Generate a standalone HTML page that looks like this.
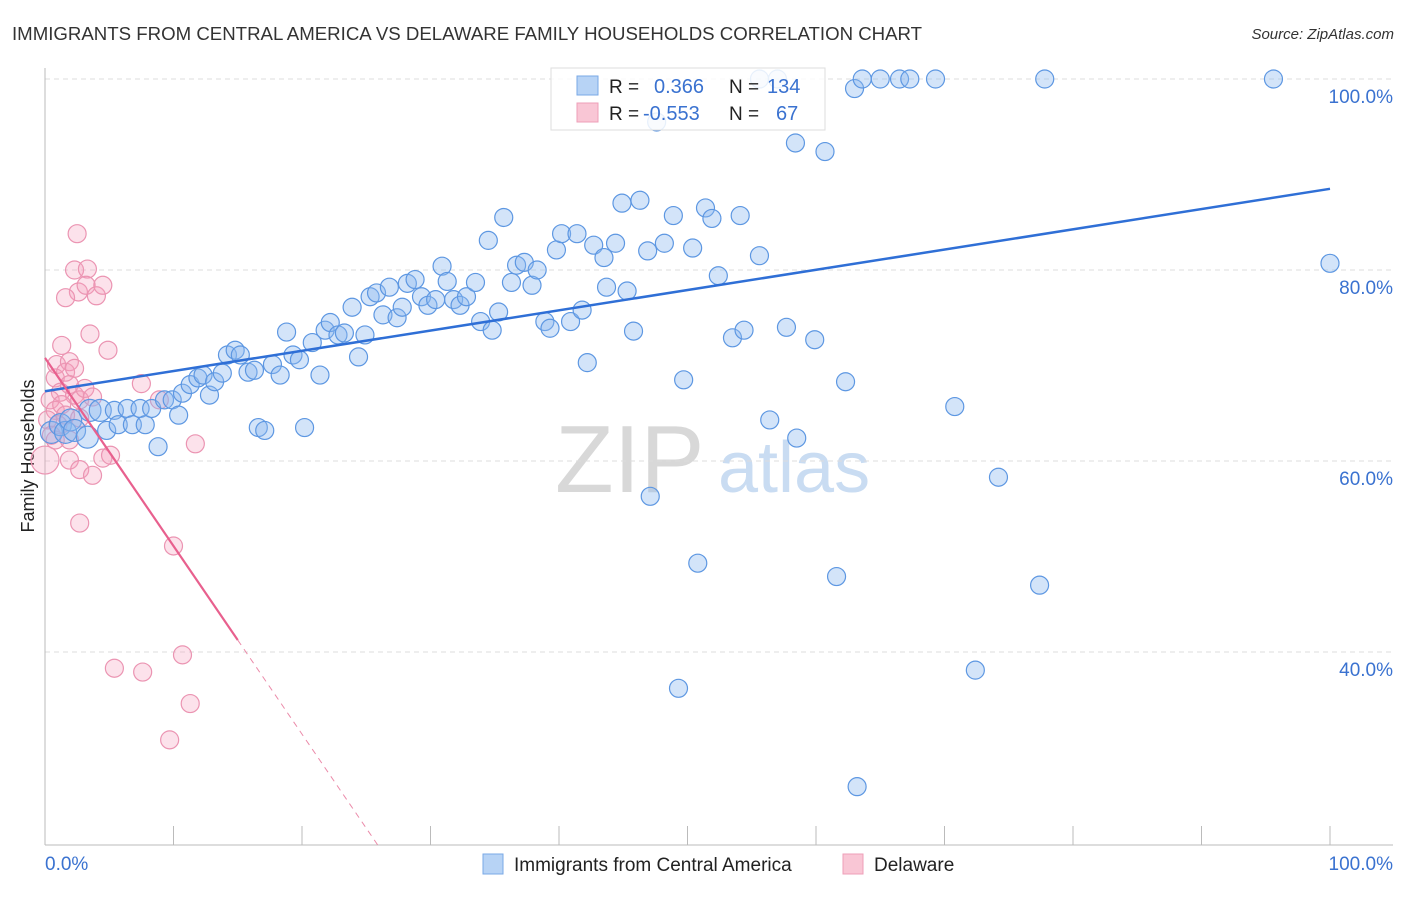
<!DOCTYPE html>
<html><head><meta charset="utf-8"><style>
body{margin:0;background:#fff;font-family:"Liberation Sans",sans-serif;}
svg text{font-family:"Liberation Sans",sans-serif;}
</style></head><body>
<svg id="chart" width="1406" height="892" xmlns="http://www.w3.org/2000/svg">
<text x="12" y="40" font-size="18.65" fill="#333">IMMIGRANTS FROM CENTRAL AMERICA VS DELAWARE FAMILY HOUSEHOLDS CORRELATION CHART</text>
<text x="1394" y="39" font-size="15" fill="#333" font-style="italic" text-anchor="end">Source: ZipAtlas.com</text>
<text transform="translate(34,456) rotate(-90)" font-size="18" fill="#222" text-anchor="middle">Family Households</text>
<g>
<text x="555" y="492" font-size="96" fill="#d8d8d8" font-family="Liberation Serif, serif">ZIP</text>
<text x="718" y="492" font-size="72" fill="#c9dcf2">atlas</text>
</g>
<g id="grid"></g><g id="axes"></g><g id="pts"></g><g id="lines"></g>
<g>
<rect x="551" y="68" width="274" height="62" fill="#fff" fill-opacity="0.85" stroke="#ddd"/>
<rect x="577" y="76" width="21" height="19" fill="#b7d3f5" stroke="#7aa8e6"/>
<rect x="577" y="103" width="21" height="19" fill="#f9c6d5" stroke="#ee9fb8"/>
<text x="609" y="93" font-size="19" fill="#222">R =</text>
<text x="654" y="93" font-size="20" fill="#3a72d0">0.366</text>
<text x="729" y="93" font-size="19" fill="#222">N =</text>
<text x="767" y="93" font-size="20" fill="#3a72d0">134</text>
<text x="609" y="120" font-size="19" fill="#222">R =</text>
<text x="643" y="120" font-size="20" fill="#3a72d0">-0.553</text>
<text x="729" y="120" font-size="19" fill="#222">N =</text>
<text x="776" y="120" font-size="20" fill="#3a72d0">67</text>
</g>
<g>
<rect x="483" y="854" width="20" height="20" fill="#b7d3f5" stroke="#7aa8e6"/>
<text x="514" y="871" font-size="19" fill="#222">Immigrants from Central America</text>
<rect x="843" y="854" width="20" height="20" fill="#f9c6d5" stroke="#ee9fb8"/>
<text x="874" y="871" font-size="19" fill="#222">Delaware</text>
</g>
</svg>
<script>
const blueX=[0.5,1.2,1.6,2.0,2.3,3.3,3.5,4.3,4.8,5.4,5.7,6.4,6.8,7.4,7.8,8.3,8.8,9.3,9.9,10.4,10.7,11.3,11.9,12.3,12.8,13.2,13.8,14.2,14.8,15.2,15.8,16.3,16.6,17.1,17.7,18.3,18.8,19.3,19.8,20.2,20.8,21.4,21.8,22.2,22.8,23.3,23.9,24.4,24.9,25.3,25.8,26.3,26.8,27.4,27.8,28.2,28.8,29.3,29.8,30.4,30.9,31.3,31.8,32.3,32.8,33.5,33.9,34.5,34.8,35.3,35.7,36.3,36.7,37.3,37.9,38.3,38.9,39.3,39.8,40.2,40.9,41.4,41.8,42.2,42.7,43.5,43.7,44.4,44.9,45.3,45.8,46.3,47.1,47.6,46.9,48.2,48.9,49.3,49.7,50.4,50.8,51.4,51.9,52.4,53.5,54.1,54.4,55.6,55.6,56.4,57.7,58.5,58.4,59.9,60.7,61.6,62.3,63.0,63.6,65.0,66.5,67.3,69.3,70.8,72.4,74.2,77.4,77.8,95.6,100,63.2,57.0];
const blueY=[63.0,63.8,63.0,64.3,63.2,62.5,65.3,65.3,63.2,65.3,63.8,65.5,63.8,65.5,63.8,65.5,61.5,66.4,66.4,64.8,67.1,68.0,68.7,69.0,66.9,68.3,69.2,71.1,71.6,71.1,69.3,69.5,63.5,63.2,70.1,69.0,73.5,71.1,70.6,63.5,72.4,69.0,73.7,74.5,73.2,73.4,76.1,70.9,73.2,77.2,77.6,75.3,78.2,75.0,76.1,78.6,79.0,77.2,76.3,76.9,80.4,78.8,76.9,76.3,77.2,78.7,74.6,83.1,73.7,75.6,85.5,78.7,80.5,80.8,78.4,80.0,74.6,73.9,82.1,83.8,74.6,83.8,75.8,70.3,82.6,81.3,78.2,82.8,87.0,77.8,73.6,87.3,56.3,95.5,82.0,82.8,85.7,36.2,68.5,82.3,49.3,86.5,85.4,79.4,72.9,85.7,73.7,100,81.5,64.3,74.0,62.4,93.3,72.7,92.4,47.9,68.3,99.0,100,100,100,100,100,65.7,38.1,58.3,47.0,100,100,80.7,25.9,100];
const pinkX=[2.5,2.3,3.3,2.6,3.2,1.6,4.0,4.5,3.5,4.9,1.3,0.9,1.9,0.8,1.6,2.3,1.2,1.9,2.3,2.7,3.1,0.4,0.8,1.3,1.6,1.0,0.2,0.5,0.8,1.9,2.7,3.7,7.5,8.9,11.7,4.5,5.1,1.9,2.7,3.7,0,2.7,10.0,5.4,7.6,10.7,11.3,9.7];
const pinkY=[83.8,80.0,80.1,77.7,78.4,77.1,77.3,78.4,73.3,71.6,72.1,70.1,70.4,68.7,69.3,69.7,67.2,68.0,66.9,66.4,67.6,66.4,65.3,65.9,64.8,63.8,64.3,62.7,62.2,62.2,64.5,66.7,68.1,66.4,61.8,60.3,60.6,60.1,59.1,58.5,60.1,53.5,51.1,38.3,37.9,39.7,34.6,30.8];
const blueTrend=[67.3,88.5];
const pinkTrend=[70.8,-1.97];
const yTicks=[100,80,60,40];
const xTicks=[0,10,20,30,40,50,60,70,80,90,100];
const NS="http://www.w3.org/2000/svg";
const sx=v=>45+v*12.85, sy=v=>79+(100-v)*9.55;
function mk(tag,attrs,parent){const e=document.createElementNS(NS,tag);for(const k in attrs)e.setAttribute(k,attrs[k]);document.getElementById(parent).appendChild(e);return e;}
yTicks.forEach(t=>{
 const l=mk('line',{x1:45,x2:1393,y1:sy(t),y2:sy(t),stroke:'#ddd','stroke-dasharray':'5,4'},'grid');
 
 
 const tx=mk('text',{x:1393,y:sy(t)+24,'font-size':19,fill:'#3a72d0','text-anchor':'end'},'grid');
 tx.textContent=t.toFixed(1)+'%';
 
 
});
const ax=mk('line',{x1:45,x2:1393,y1:845,y2:845,stroke:'#bbb'},'axes');


const ay=mk('line',{x1:45,x2:45,y1:68,y2:845,stroke:'#bbb'},'axes');


xTicks.forEach(t=>{const l=mk('line',{x1:sx(t),x2:sx(t),y1:826,y2:845,stroke:'#bbb'},'axes');
 
 });
const xl0=mk('text',{x:45,y:870,'font-size':19,fill:'#3a72d0'},'axes');xl0.textContent='0.0%';


const xl1=mk('text',{x:1393,y:870,'font-size':19,fill:'#3a72d0','text-anchor':'end'},'axes');xl1.textContent='100.0%';


pinkX.forEach((x,i)=>{const c=mk('circle',{cx:sx(x),cy:sy(pinkY[i]),r:(x===0?14:9),fill:'rgba(244,160,188,0.3)',stroke:'#eb94b2','stroke-width':1.2},'pts');
 
 });
blueX.forEach((x,i)=>{const c=mk('circle',{cx:sx(x),cy:sy(blueY[i]),r:(i<8?11:9),fill:'rgba(140,185,240,0.38)',stroke:'#5d97e2','stroke-width':1.2},'pts');
 
 });
const bl=mk('line',{x1:sx(0),y1:sy(blueTrend[0]),x2:sx(100),y2:sy(blueTrend[1]),stroke:'#2f6fd6','stroke-width':2.5},'lines');


const xe=15, xz=(19.8-pinkTrend[0])/pinkTrend[1];
const pl=mk('line',{x1:sx(0),y1:sy(pinkTrend[0]),x2:sx(xe),y2:sy(pinkTrend[0]+pinkTrend[1]*xe),stroke:'#e8608e','stroke-width':2.2},'lines');


const pd=mk('line',{x1:sx(xe),y1:sy(pinkTrend[0]+pinkTrend[1]*xe),x2:sx(xz),y2:sy(19.8),stroke:'#eb8aa9','stroke-width':1,'stroke-dasharray':'6,5'},'lines');


</script>
</body></html>
